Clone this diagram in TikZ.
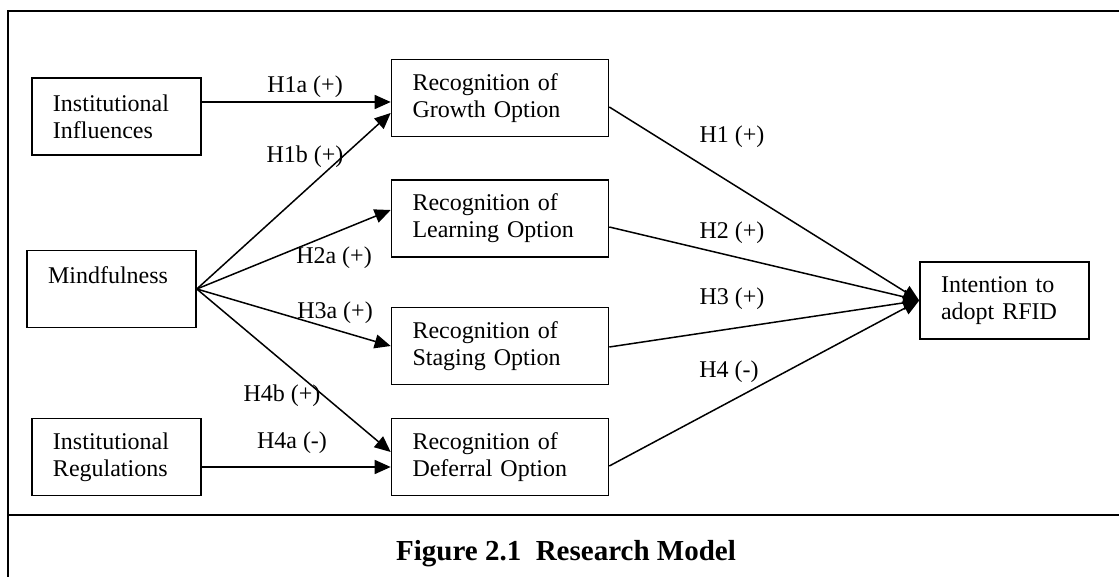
\documentclass[tikz,border=0pt]{standalone}
\usepackage{fontspec}
\setmainfont{Liberation Serif}
\usetikzlibrary{arrows.meta}

\tikzset{
  frameLine/.style={line width=1.1pt},
  varBox/.style={draw, line width=0.8pt, minimum height=38.5pt, inner xsep=10.5pt,
    align=left, font=\fontsize{12}{13.5}\selectfont},
  pathArrow/.style={line width=0.75pt, -{Triangle[length=8pt,width=7pt]}},
  hypLabel/.style={inner sep=0pt, font=\fontsize{12}{13.5}\selectfont}
}

\begin{document}
\begin{tikzpicture}[x=0.5pt,y=-0.5pt]
\useasboundingbox (0,0) rectangle (1119,577);
% frame and caption rule
\draw[frameLine] (8,577) -- (8,11) -- (1119,11);
\draw[frameLine] (8,515) -- (1119,515);

% antecedents
\node[varBox, text width=63.5pt] (influences) at (116.5,116.5) {Institutional\\Influences};
\node[varBox, text width=63.5pt] (mindfulness) at (111.5,289) {Mindfulness\\\mbox{}};
\node[varBox, text width=63.5pt] (regulations) at (116.5,457) {Institutional\\Regulations};

% option recognition
\foreach \n/\y/\txt in {growth/98/Growth, learning/218.5/Learning, staging/346/Staging, deferral/457/Deferral}
  \node[varBox, text width=87.5pt] (\n) at (500,\y) {Recognition of\\\txt{} Option};

% outcome
\node[varBox, text width=63.5pt] (intention) at (1004.5,300.5) {Intention to\\adopt RFID};

% incoming paths
\draw[pathArrow] ([yshift=7.25pt]influences.east) -- ([yshift=-2pt]growth.west);
\draw[pathArrow] (mindfulness.east) -- ([yshift=-7.5pt]growth.west);
\draw[pathArrow] (mindfulness.east) -- ([yshift=4.25pt]learning.west);
\draw[pathArrow] (mindfulness.east) -- (staging.west);
\draw[pathArrow] (mindfulness.east) -- ([yshift=2.5pt]deferral.west);
\draw[pathArrow] ([yshift=-5pt]regulations.east) -- ([yshift=-5pt]deferral.west);

% paths to intention
\foreach \n/\s in {growth/-4.5pt, learning/-4.25pt, staging/-0.5pt, deferral/-4.5pt}
  \draw[pathArrow] ([yshift=\s]\n.east) -- (intention.west);

% hypothesis labels
\node[hypLabel] (h1a) at (305,87) {H1a (+)};
\node[hypLabel] (h1b) at (305,157) {H1b (+)};
\node[hypLabel] (h2a) at (334,258) {H2a (+)};
\node[hypLabel] (h3a) at (335,313) {H3a (+)};
\node[hypLabel] (h4b) at (282,396) {H4b (+)};
\node[hypLabel] (h4a) at (292,443) {H4a (-)};
\node[hypLabel] (h1) at (732,137) {H1 (+)};
\node[hypLabel] (h2) at (732,233) {H2 (+)};
\node[hypLabel] (h3) at (732,299) {H3 (+)};
\node[hypLabel] (h4) at (729,372) {H4 (-)};

% caption
\node[font=\bfseries\fontsize{14.5}{17}\selectfont, anchor=base] (caption) at (566,560) {Figure 2.1\ \ Research Model};
\end{tikzpicture}
\end{document}
